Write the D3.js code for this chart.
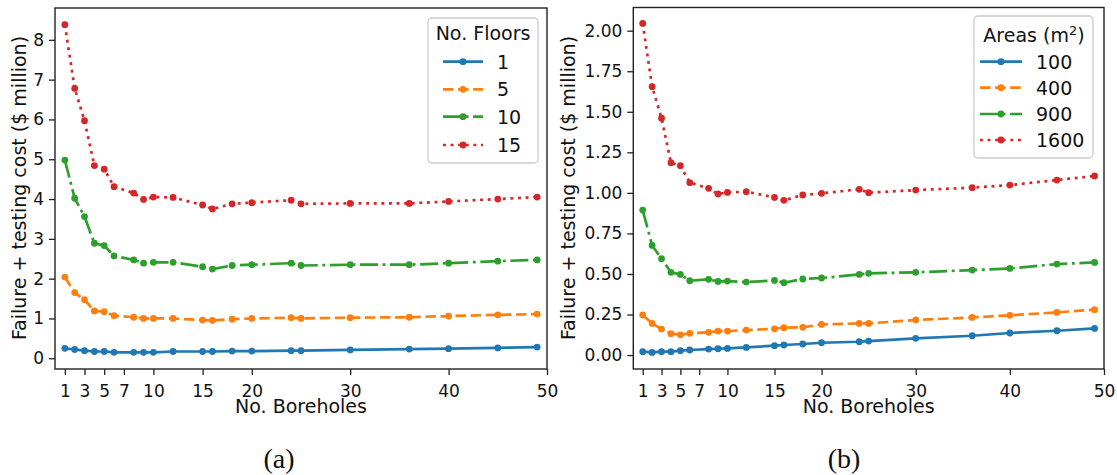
<!DOCTYPE html>
<html>
<head>
<meta charset="utf-8">
<script src="https://cdn.jsdelivr.net/npm/d3@7"></script>
<style>
    html, body { margin: 0; padding: 0; background: #fff; }
    svg { display: block; }
    text { font-family: 'DejaVu Sans', sans-serif; fill: #111; }
</style>
</head>
<body>
<div id="chart"></div>
<script>
'use strict';

// number of boreholes (x values, shared by both panels)
var boreholes = [1, 2, 3, 4, 5, 6, 8, 9, 10, 12, 15, 16, 18, 20, 24, 25, 30, 36, 40, 45, 49];
var xTicks = [1, 3, 5, 7, 10, 15, 20, 30, 40, 50];

// (a) cost by number of floors
var floorNames = ['1', '5', '10', '15'];
var floors1 = [0.25, 0.22, 0.19, 0.17, 0.17, 0.15, 0.15, 0.15, 0.15, 0.17, 0.17, 0.17, 0.18, 0.18, 0.19, 0.19, 0.21, 0.23, 0.24, 0.26, 0.28];
var floors5 = [2.04, 1.65, 1.47, 1.19, 1.17, 1.07, 1.03, 1.00, 1.00, 1.00, 0.96, 0.95, 0.98, 1.00, 1.02, 1.00, 1.02, 1.03, 1.06, 1.09, 1.11];
var floors10 = [4.98, 4.02, 3.56, 2.89, 2.83, 2.57, 2.47, 2.39, 2.41, 2.41, 2.30, 2.24, 2.33, 2.35, 2.39, 2.33, 2.35, 2.35, 2.39, 2.44, 2.47];
var floors15 = [8.38, 6.78, 5.97, 4.84, 4.75, 4.31, 4.15, 3.99, 4.05, 4.04, 3.85, 3.75, 3.88, 3.91, 3.97, 3.88, 3.89, 3.89, 3.94, 4.00, 4.05];
var yTicksA = [0, 1, 2, 3, 4, 5, 6, 7, 8];

// (b) cost by floor area
var areaNames = ['100', '400', '900', '1600'];
var area100 = [0.021, 0.016, 0.021, 0.021, 0.027, 0.031, 0.037, 0.039, 0.041, 0.047, 0.058, 0.062, 0.068, 0.076, 0.082, 0.086, 0.103, 0.119, 0.136, 0.150, 0.164];
var area400 = [0.247, 0.195, 0.160, 0.132, 0.125, 0.134, 0.140, 0.148, 0.148, 0.154, 0.162, 0.169, 0.171, 0.189, 0.195, 0.195, 0.216, 0.232, 0.245, 0.263, 0.280];
var area900 = [0.894, 0.676, 0.594, 0.510, 0.497, 0.458, 0.467, 0.454, 0.456, 0.450, 0.460, 0.446, 0.469, 0.475, 0.497, 0.504, 0.510, 0.524, 0.534, 0.561, 0.571];
var area1600 = [2.045, 1.655, 1.460, 1.186, 1.168, 1.063, 1.028, 0.993, 1.003, 1.007, 0.972, 0.954, 0.987, 0.997, 1.022, 1.001, 1.017, 1.032, 1.048, 1.079, 1.104];
var yTicksB = [0, 0.25, 0.5, 0.75, 1.0, 1.25, 1.5, 1.75, 2.0];

var width = 1117,
    height = 475;

var colors = ['#1f77b4', '#ff7f0e', '#2ca02c', '#d62728'];
var dashes = [null, '10.5,4.6', '18,4.6,2.9,4.6', '2.9,4.7'];
var lineWidth = 2.7,
    markerRadius = 3.4;

var svg = d3.select('#chart')
    .append('svg')
    .attr('width', width)
    .attr('height', height);

/**
 * Draws one panel with its axes, series and legend
 */
function drawPanel(opts) {
    var x = d3.scaleLinear().domain([0, 50]).range([opts.left, opts.right]);
    var y = d3.scaleLinear().domain(opts.yDomain).range([opts.bottom, opts.top]);

    var g = svg.append('g');

    var line = d3.line()
        .x(function(d) { return x(d[0]); })
        .y(function(d) { return y(d[1]); });

    opts.series.forEach(function(values, i) {
        var pts = boreholes.map(function(b, j) { return [b, values[j]]; });
        g.append('path')
            .datum(pts)
            .attr('d', line)
            .attr('fill', 'none')
            .attr('stroke', colors[i])
            .attr('stroke-width', lineWidth)
            .attr('stroke-dasharray', dashes[i])
            .attr('stroke-linejoin', 'round');
        g.selectAll(null)
            .data(pts)
            .enter()
            .append('circle')
            .attr('cx', function(d) { return x(d[0]); })
            .attr('cy', function(d) { return y(d[1]); })
            .attr('r', markerRadius)
            .attr('fill', colors[i]);
    });

    // frame
    g.append('rect')
        .attr('x', opts.left)
        .attr('y', opts.top)
        .attr('width', opts.right - opts.left)
        .attr('height', opts.bottom - opts.top)
        .attr('fill', 'none')
        .attr('stroke', '#222')
        .attr('stroke-width', 1.4);

    var xAxis = g.append('g')
        .attr('transform', 'translate(0,' + opts.bottom + ')')
        .call(d3.axisBottom(x).tickValues(xTicks).tickSize(6).tickPadding(9.5));
    var yAxis = g.append('g')
        .attr('transform', 'translate(' + opts.left + ',0)')
        .call(d3.axisLeft(y).tickValues(opts.yTicks).tickFormat(opts.yFormat).tickSize(6).tickPadding(5));

    [xAxis, yAxis].forEach(function(ax) {
        ax.select('.domain').remove();
        ax.selectAll('.tick line').attr('stroke', '#222').attr('stroke-width', 1.3);
        ax.selectAll('.tick text')
            .attr('fill', '#111')
            .style('font-size', '17px')
            .style('font-family', 'DejaVu Sans');
    });

    g.append('text')
        .attr('x', (opts.left + opts.right) / 2)
        .attr('y', 413)
        .attr('text-anchor', 'middle')
        .style('font-size', '19px')
        .text('No. Boreholes');

    g.append('text')
        .attr('transform', 'translate(' + opts.yLabelX + ',188) rotate(-90)')
        .attr('text-anchor', 'middle')
        .style('font-size', '19px')
        .text('Failure + testing cost ($ million)');

    // legend
    var lg = opts.legend;
    g.append('rect')
        .attr('x', lg.x0)
        .attr('y', lg.y0)
        .attr('width', lg.x1 - lg.x0)
        .attr('height', lg.y1 - lg.y0)
        .attr('rx', 4)
        .attr('fill', '#fff')
        .attr('fill-opacity', 0.85)
        .attr('stroke', '#cccccc')
        .attr('stroke-width', 1.3);

    var title = g.append('text')
        .attr('x', lg.titleX)
        .attr('y', lg.titleY)
        .attr('text-anchor', 'middle')
        .style('font-size', '19px')
        .text(lg.title);
    if (lg.sup) {
        title.append('tspan')
            .attr('baseline-shift', 'super')
            .style('font-size', '13px')
            .text(lg.sup);
        title.append('tspan').text(')');
    }

    opts.names.forEach(function(name, i) {
        var cy = lg.rows[i];
        g.append('line')
            .attr('x1', lg.lineX0)
            .attr('x2', lg.lineX1)
            .attr('y1', cy)
            .attr('y2', cy)
            .attr('stroke', colors[i])
            .attr('stroke-width', lineWidth)
            .attr('stroke-dasharray', dashes[i]);
        g.append('circle')
            .attr('cx', (lg.lineX0 + lg.lineX1) / 2)
            .attr('cy', cy)
            .attr('r', markerRadius)
            .attr('fill', colors[i]);
        g.append('text')
            .attr('x', lg.labelX)
            .attr('y', cy + 7)
            .style('font-size', '19px')
            .text(name);
    });

    svg.append('text')
        .attr('x', opts.captionX)
        .attr('y', 468)
        .attr('text-anchor', 'middle')
        .style('font-family', 'Liberation Serif, serif')
        .style('font-size', '28px')
        .text(opts.caption);
}

drawPanel({
    left: 55, right: 547, top: 8, bottom: 369,
    yDomain: [-0.27, 8.80],
    yTicks: yTicksA,
    yFormat: d3.format('d'),
    yLabelX: 26,
    series: [floors1, floors5, floors10, floors15],
    names: floorNames,
    caption: '(a)',
    captionX: 279,
    legend: {
        x0: 428, x1: 538, y0: 18, y1: 163,
        title: 'No. Floors', titleX: 483, titleY: 40,
        rows: [61.7, 89.3, 116.7, 145],
        lineX0: 443, lineX1: 483, labelX: 497
    }
});

drawPanel({
    left: 633.3, right: 1104, top: 7.5, bottom: 369,
    yDomain: [-0.086, 2.143],
    yTicks: yTicksB,
    yFormat: d3.format('.2f'),
    yLabelX: 575,
    series: [area100, area400, area900, area1600],
    names: areaNames,
    caption: '(b)',
    captionX: 844,
    legend: {
        x0: 974, x1: 1093, y0: 16, y1: 158,
        title: 'Areas (m', sup: '2', titleX: 1034, titleY: 42,
        rows: [61.7, 87.7, 114, 140],
        lineX0: 980, lineX1: 1022, labelX: 1036
    }
});
</script>
</body>
</html>
